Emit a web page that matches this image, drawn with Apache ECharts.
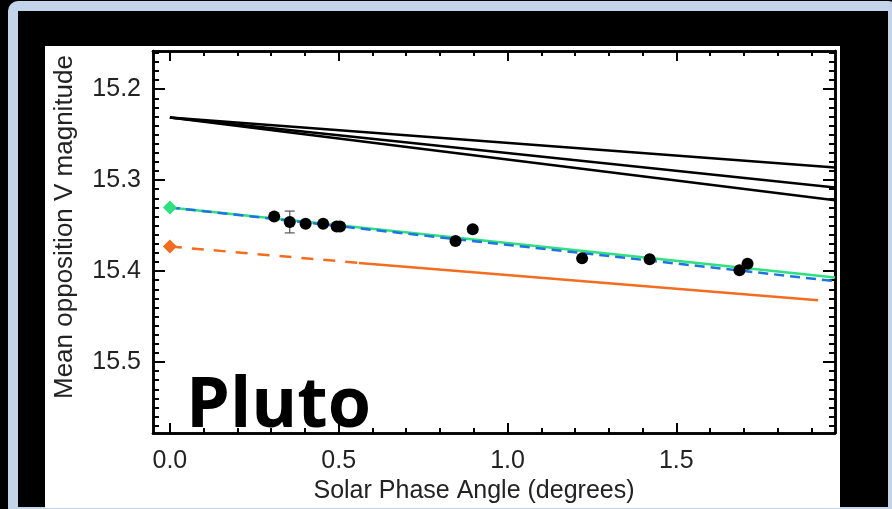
<!DOCTYPE html>
<html>
<head>
<meta charset="utf-8">
<script src="https://cdn.jsdelivr.net/npm/echarts@6/dist/echarts.min.js"></script>
<style>
  html,body{margin:0;padding:0;}
  body{background:#000;width:892px;height:509px;overflow:hidden;position:relative;}
  #frame{position:absolute;left:8px;top:1px;width:890px;height:516px;border:10px solid #c3d3ea;border-radius:10px;box-sizing:border-box;}
  #panel{position:absolute;left:45px;top:46px;width:795px;height:462px;background:#fff;}
  #chart{position:absolute;left:0;top:0;width:892px;height:509px;}
</style>
</head>
<body>
<div id="frame"></div>
<div id="panel"></div>
<div id="chart"></div>
<script>
// ---- data ----
const phaseAngle = [0.309, 0.355, 0.402, 0.454, 0.494, 0.504, 0.846, 0.897, 1.221, 1.421, 1.687, 1.711];
const meanMag    = [15.340, 15.346, 15.348, 15.348, 15.351, 15.351, 15.367, 15.354, 15.386, 15.387, 15.399, 15.392];
const magError   = [0, 0.012, 0, 0, 0, 0, 0, 0.003, 0, 0, 0, 0];

const blackStart = [0.0, 15.231];
const blackEnds  = [[1.97, 15.286], [1.97, 15.308], [1.97, 15.322]];
const greenFit   = [[0.0, 15.330], [1.97, 15.407]];
const blueFit    = [[0.0, 15.330], [1.97, 15.411]];
const orangeDashed = [[0.0, 15.373], [0.56, 15.391]];
const orangeSolid  = [[0.56, 15.391], [1.92, 15.432]];
const greenDiamond  = [[0.0, 15.330]];
const orangeDiamond = [[0.0, 15.373]];

const xTickLabels = [0.0, 0.5, 1.0, 1.5];
const yTickLabels = [15.2, 15.3, 15.4, 15.5];

// ---- axis ranges and minor ticks ----
const xMin = -0.05, xMax = 1.97, yMin = 15.158, yMax = 15.578;
const xMinor = [];
for (let i = 0; i <= 19; i++) xMinor.push(i / 10);
const yMinor = [];
for (let v = 1516; v <= 1557; v++) yMinor.push(v / 100);

const FONT = '"Liberation Sans", Arial, sans-serif';

function xAxisDef(pos, values, len, showLabel, name) {
  return {
    type: 'value', position: pos, min: xMin, max: xMax,
    axisLine: {show: true, onZero: false, lineStyle: {color: '#000', width: 2.5}},
    axisTick: {show: true, inside: true, length: len, customValues: values, lineStyle: {color: '#000', width: 2}},
    axisLabel: {show: showLabel, customValues: values, margin: 16, color: '#222', fontSize: 25, fontFamily: FONT,
      formatter: v => Number(v).toFixed(1)},
    splitLine: {show: false},
    name: name || '', nameLocation: 'middle', nameGap: 46,
    nameTextStyle: {color: '#222', fontSize: 25, fontFamily: FONT, padding: [0, 40, 0, 0]}
  };
}
function yAxisDef(pos, values, len, showLabel, name) {
  return {
    type: 'value', position: pos, min: yMin, max: yMax, inverse: true,
    axisLine: {show: true, onZero: false, lineStyle: {color: '#000', width: 2.5}},
    axisTick: {show: true, inside: true, length: len, customValues: values, lineStyle: {color: '#000', width: 2}},
    axisLabel: {show: showLabel, customValues: values, margin: 12, color: '#222', fontSize: 25, fontFamily: FONT,
      formatter: v => Number(v).toFixed(1)},
    splitLine: {show: false},
    name: name || '', nameLocation: 'middle', nameGap: 75,
    nameTextStyle: {color: '#222', fontSize: 26, fontFamily: FONT, padding: [0, 0, 0, 30]}
  };
}

function lineSeries(data, color, width, dashed) {
  return {
    type: 'line', data: data, xAxisIndex: 0, yAxisIndex: 0, symbol: 'none', silent: true,
    lineStyle: {color: color, width: width, type: dashed ? dashed : 'solid'},
    z: 2, animation: false
  };
}

const errData = [];
for (let i = 0; i < phaseAngle.length; i++) {
  if (magError[i] > 0) errData.push([phaseAngle[i], meanMag[i] - magError[i], meanMag[i] + magError[i]]);
}
const points = phaseAngle.map((x, i) => [x, meanMag[i]]);

const series = [];
blackEnds.forEach(e => series.push(lineSeries([blackStart, e], '#000', 2.5)));
series.push(lineSeries(greenFit, '#2fe07e', 2.5));
series.push(lineSeries(blueFit, '#1f74e0', 2.5, [10, 6]));
series.push(lineSeries(orangeDashed, '#f36d20', 2.5, [12, 10]));
series.push(lineSeries(orangeSolid, '#f36d20', 2.5));
series.push({type: 'scatter', data: greenDiamond, symbol: 'diamond', symbolSize: 14,
  itemStyle: {color: '#2fe07e', opacity: 1}, z: 4, animation: false});
series.push({type: 'scatter', data: orangeDiamond, symbol: 'diamond', symbolSize: 14,
  itemStyle: {color: '#f36d20', opacity: 1}, z: 4, animation: false});
series.push({
  type: 'custom', data: errData, z: 5, animation: false,
  renderItem: function (params, api) {
    const x = api.value(0);
    const p1 = api.coord([x, api.value(1)]);
    const p2 = api.coord([x, api.value(2)]);
    const w = 5;
    const st = {stroke: '#555', lineWidth: 1.2};
    return {type: 'group', children: [
      {type: 'line', shape: {x1: p1[0], y1: p1[1], x2: p2[0], y2: p2[1]}, style: st},
      {type: 'line', shape: {x1: p1[0] - w, y1: p1[1], x2: p1[0] + w, y2: p1[1]}, style: st},
      {type: 'line', shape: {x1: p2[0] - w, y1: p2[1], x2: p2[0] + w, y2: p2[1]}, style: st}
    ]};
  }
});
series.push({type: 'scatter', data: points, symbol: 'circle', symbolSize: 12,
  itemStyle: {color: '#000', opacity: 1}, z: 6, animation: false});

const chart = echarts.init(document.getElementById('chart'), null, {renderer: 'canvas'});
chart.setOption({
  animation: false,
  backgroundColor: 'transparent',
  grid: {left: 153, right: 57, top: 51, bottom: 58, containLabel: false},
  xAxis: [
    xAxisDef('bottom', xTickLabels, 10, true, 'Solar Phase Angle (degrees)'),
    xAxisDef('bottom', xMinor, 5, false),
    xAxisDef('top', xTickLabels, 10, false),
    xAxisDef('top', xMinor, 5, false)
  ],
  yAxis: [
    yAxisDef('left', yTickLabels, 12, true, 'Mean opposition V magnitude'),
    yAxisDef('left', yMinor, 6, false),
    yAxisDef('right', yTickLabels, 12, false),
    yAxisDef('right', yMinor, 6, false)
  ],
  graphic: [{
    type: 'text', left: 186, top: 372, z: 10,
    style: {text: 'Pluto', font: 'bold 70px "Open Sans", "Liberation Sans", sans-serif', fill: '#000'}
  }],
  series: series
});
</script>
</body>
</html>
